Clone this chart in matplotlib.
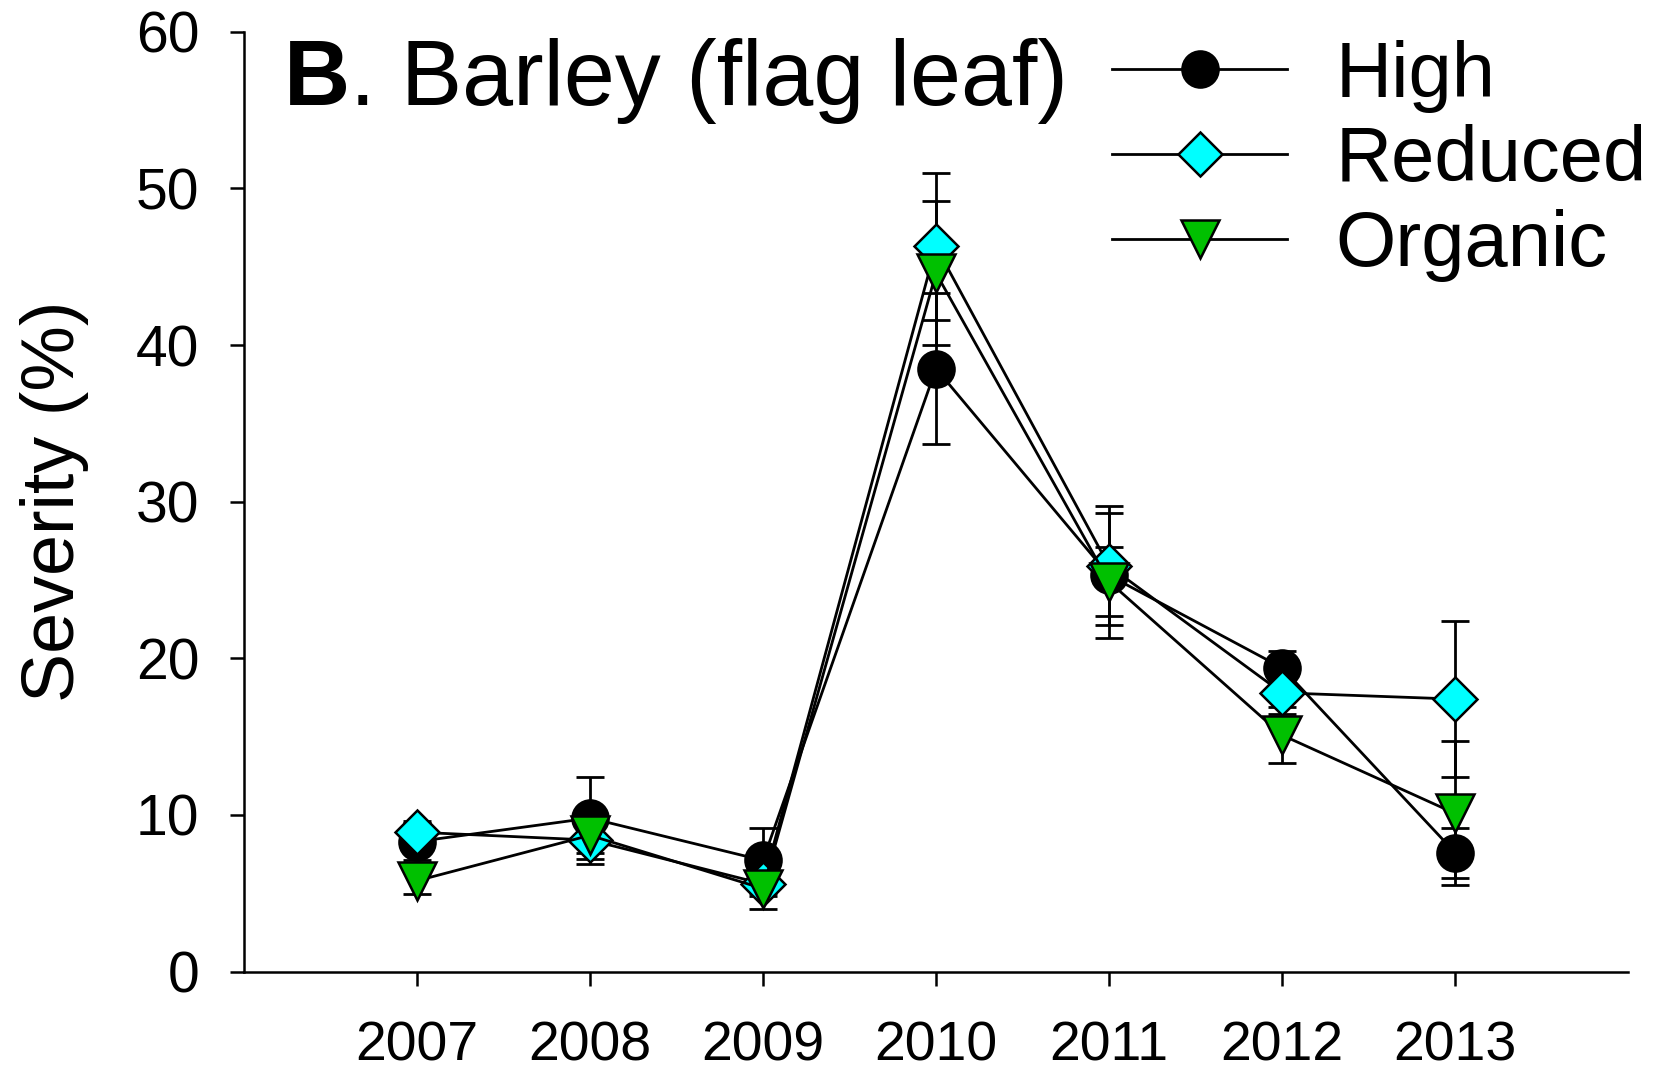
import numpy as np
import matplotlib
matplotlib.use("Agg")
import matplotlib.pyplot as plt

plt.rcParams['font.family'] = ['Liberation Sans', 'DejaVu Sans']

# Data
years = [2007, 2008, 2009, 2010, 2011, 2012, 2013]
series_names = ['High', 'Reduced', 'Organic']
high = [8.3, 9.8, 7.1, 38.5, 25.3, 19.4, 7.6]
high_se = [1.2, 2.6, 2.1, 4.8, 4.0, 1.1, 1.6]
reduced = [8.9, 8.4, 5.6, 46.3, 25.9, 17.8, 17.4]
reduced_se = [0.7, 0.85, 0.8, 4.7, 3.8, 1.35, 5.0]
organic = [5.8, 8.7, 5.3, 44.6, 24.9, 15.1, 10.1]
organic_se = [0.85, 1.8, 1.3, 4.6, 2.2, 1.8, 4.6]

values = [high, reduced, organic]
errors = [high_se, reduced_se, organic_se]
markers = ['o', 'D', 'v']
marker_sizes = [26, 22, 27]
colors = ['black', '#00ffff', '#00c000']

fig = plt.figure(figsize=(16.65, 10.73), dpi=100, facecolor='white')
ax = fig.add_axes([0.1465, 0.0945, 0.9778 - 0.1465, 0.9703 - 0.0945])

for name, y, err, m, ms, c in zip(series_names, values, errors, markers, marker_sizes, colors):
    ax.errorbar(years, y, yerr=err, fmt='none', ecolor='black',
                elinewidth=2, capsize=10, capthick=2, zorder=2)
    ax.plot(years, y, color='black', lw=2, marker=m, markersize=ms,
            markerfacecolor=c, markeredgecolor='black', markeredgewidth=1.8,
            label=name, zorder=3)

ax.set_xlim(2006, 2014)
ax.set_ylim(0, 60)
ax.set_xticks(years)
ax.set_yticks(np.arange(0, 61, 10))

for side in ['top', 'right']:
    ax.spines[side].set_visible(False)
for side in ['left', 'bottom']:
    ax.spines[side].set_linewidth(1.8)

ax.tick_params(axis='x', direction='out', length=10, width=1.8,
               labelsize=40, pad=25)
ax.tick_params(axis='y', direction='out', length=10, width=1.8,
               labelsize=41, pad=22)

ax.set_ylabel('Severity (%)', fontsize=53, labelpad=34)

# Title with bold panel letter
t = fig.text(284 / 1665, 1 - 105 / 1073, 'B', fontsize=66,
             fontweight='bold', va='baseline', ha='left')
ax.annotate('. Barley (flag leaf)', xy=(1, 0), xycoords=t,
            fontsize=66, va='bottom', ha='left', annotation_clip=False)

ax.legend(loc='upper left', bbox_to_anchor=(1112 / 1665, 0.963),
          bbox_transform=fig.transFigure, frameon=False, fontsize=56,
          handlelength=2.25, handletextpad=0.62, labelspacing=0.15,
          borderpad=0, borderaxespad=0)

fig.savefig('out.png', dpi=100, facecolor='white')
plt.close(fig)
